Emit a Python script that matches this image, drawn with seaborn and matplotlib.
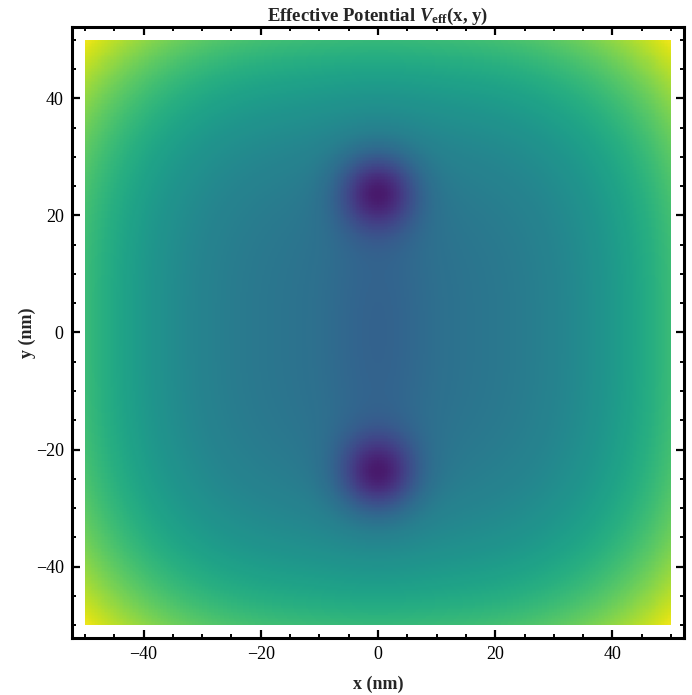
import numpy as np
import pandas as pd
import matplotlib
matplotlib.use("Agg")
import matplotlib.pyplot as plt
import seaborn as sns
from matplotlib.ticker import FixedLocator, FuncFormatter

# ---- data (parameters, normalised potential units) ----
well_x = [0.0, 0.0]            # nm, well centres
well_y = [24.0, -24.0]         # nm
well_depth = [0.31, 0.31]      # depth of each well
well_width = [4.6, 4.6]        # nm, Gaussian width of each well
channel_depth = 0.07           # shallow channel joining the wells
channel_width_x = 6.5          # nm
channel_width_y = 25.0         # nm
wall_height = 0.31             # confinement rise from centre to edge (per axis)
wall_power = 3.0
base_level = 0.39
color_min = 0.0
color_max = 1.03
x_range = [-50.0, 50.0]
y_range = [-50.0, 50.0]
n_cells = 400
major_ticks = [-40, -20, 0, 20, 40]
minor_ticks = [-50, -45, -40, -35, -30, -25, -20, -15, -10, -5, 0, 5, 10, 15, 20, 25, 30, 35, 40, 45, 50]
axis_lim = 52.2

# ---- grid ----
span = x_range[1] - x_range[0]
xs = np.linspace(x_range[0], x_range[1], n_cells, endpoint=False) + span / n_cells / 2
ys = xs[::-1]
X, Y = np.meshgrid(xs, ys)
half = span / 2
V = base_level + wall_height * (np.abs(X) / half) ** wall_power + wall_height * (np.abs(Y) / half) ** wall_power
for wx, wy, D, s in zip(well_x, well_y, well_depth, well_width):
    V -= D * np.exp(-((X - wx) ** 2 + (Y - wy) ** 2) / (2 * s ** 2))
V -= channel_depth * np.exp(-X ** 2 / (2 * channel_width_x ** 2) - Y ** 2 / (2 * channel_width_y ** 2))
df = pd.DataFrame(V, index=np.round(ys, 3), columns=np.round(xs, 3))

# ---- style ----
sns.set_style("ticks")
plt.rcParams["font.family"] = ["Liberation Serif", "DejaVu Serif"]
plt.rcParams["mathtext.fontset"] = "custom"
plt.rcParams["mathtext.rm"] = "Liberation Serif:bold"
plt.rcParams["mathtext.bf"] = "Liberation Serif:bold"
plt.rcParams["mathtext.it"] = "Liberation Serif:bold:italic"

fig = plt.figure(figsize=(6.92, 6.95), dpi=100)
ax = fig.add_axes([72/692, 1-638/695, 612/692, 611/695])
sns.heatmap(df, ax=ax, cmap="viridis", vmin=color_min, vmax=color_max,
            cbar=False, xticklabels=False, yticklabels=False, rasterized=True)

def xu(v):
    return (v - x_range[0]) * n_cells / span
def yu(v):
    return (y_range[1] - v) * n_cells / span

ax.set_xlim(xu(-axis_lim), xu(axis_lim))
ax.set_ylim(yu(-axis_lim), yu(axis_lim))

ax.xaxis.set_major_locator(FixedLocator([xu(t) for t in major_ticks]))
ax.xaxis.set_minor_locator(FixedLocator([xu(t) for t in minor_ticks]))
ax.yaxis.set_major_locator(FixedLocator([yu(t) for t in major_ticks]))
ax.yaxis.set_minor_locator(FixedLocator([yu(t) for t in minor_ticks]))
fmt = lambda v: f"{v:.0f}".replace("-", "\u2212")
ax.xaxis.set_major_formatter(FuncFormatter(lambda u, p: fmt(u * span / n_cells + x_range[0])))
ax.yaxis.set_major_formatter(FuncFormatter(lambda u, p: fmt(y_range[1] - u * span / n_cells)))

for s in ax.spines.values():
    s.set_visible(True)
    s.set_linewidth(2.2)
    s.set_color("black")
ax.tick_params(which="both", direction="in", top=True, right=True, bottom=True, left=True,
               labelsize=13, color="black", labelcolor="black", pad=6)
ax.tick_params(which="major", length=6, width=1.6)
ax.tick_params(which="minor", length=3, width=1.4)
for lab in ax.get_yticklabels():
    lab.set_rotation(0)

ax.set_xlabel("x (nm)", fontsize=13, fontweight="bold", labelpad=9)
ax.set_ylabel("y (nm)", fontsize=13, fontweight="bold", labelpad=0)
ax.set_title(r"Effective Potential $V_{\mathrm{eff}}$(x, y)", fontsize=13.5, fontweight="bold", pad=4)

fig.savefig("out.png", dpi=100)
